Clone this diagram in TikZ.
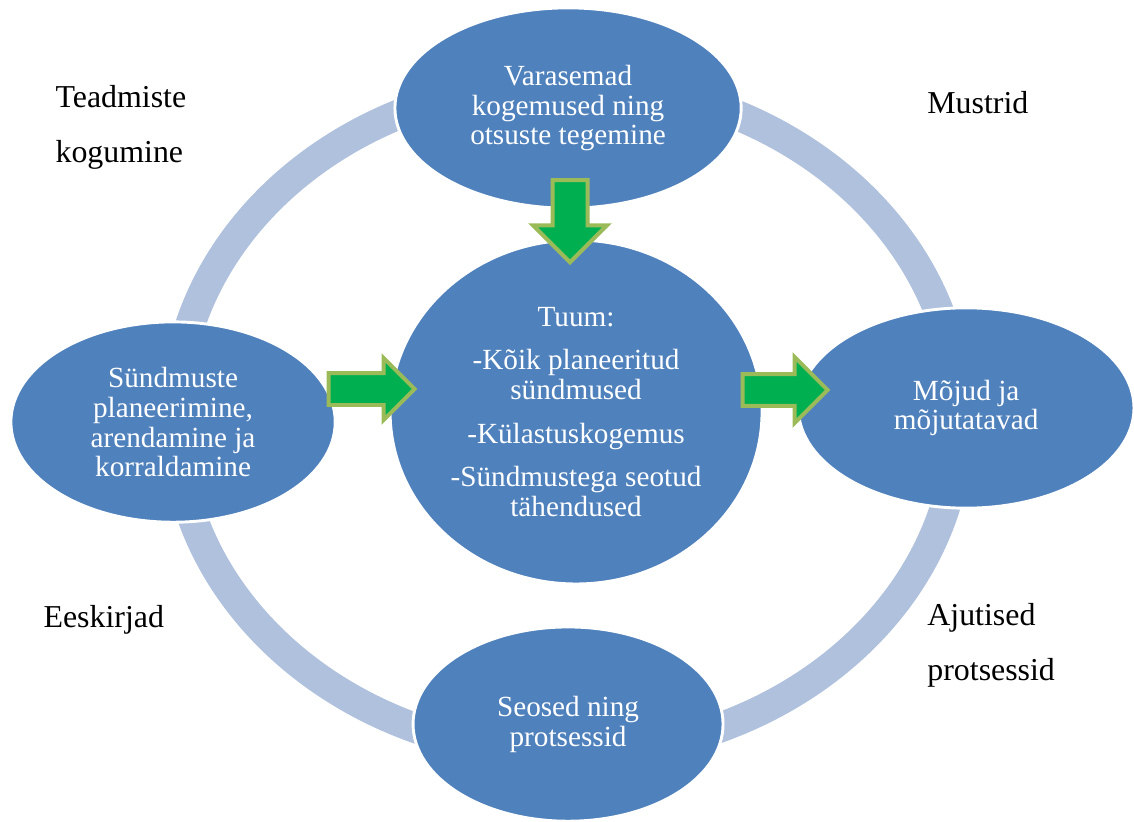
\documentclass[tikz,border=0pt]{standalone}
\usepackage{fontspec}
\setmainfont{Liberation Serif}
\usetikzlibrary{shapes.geometric, shapes.arrows}

\definecolor{bubblecol}{HTML}{4F81BD}
\definecolor{ringcol}{HTML}{B0C1DD}
\definecolor{arrfill}{HTML}{00B050}
\definecolor{arrline}{HTML}{9BBB59}

\tikzset{
  bubble/.style={ellipse, fill=bubblecol, draw=white, line width=1.1pt, text=white,
    align=center, inner sep=0pt, font=\fontsize{11}{11.25}\selectfont},
  sidetext/.style={anchor=west, align=left, inner sep=0pt, font=\fontsize{12}{20.6}\selectfont},
  blockarr/.style={single arrow, fill=arrfill, draw=arrline, line width=1.5pt,
    inner xsep=0pt, minimum height=#1}
}

\begin{document}
\begin{tikzpicture}
  \useasboundingbox (0,0) rectangle (15.0,10.861);

  % ring behind the bubbles
  \coordinate (ringc) at (7.50,5.331);
  \draw[ringcol, line width=0.397cm] (ringc) ellipse [x radius=5.186, y radius=4.445];

  \node[bubble, minimum width=4.58cm, minimum height=2.65cm] (past) at (7.514,9.432) {Varasemad\\kogemused ning\\otsuste tegemine};
  \node[bubble, minimum width=4.29cm, minimum height=2.65cm] (plan) at (2.289,5.278) {Sündmuste\\planeerimine,\\arendamine ja\\korraldamine};
  \node[bubble, minimum width=4.44cm, minimum height=2.65cm] (impact) at (12.78,5.464) {Mõjud ja\\mõjutatavad};
  \node[bubble, minimum width=4.10cm, minimum height=2.57cm] (links) at (7.514,1.283) {Seosed ning\\protsessid};
  \node[bubble, minimum width=4.92cm, minimum height=4.55cm] (core) at (7.62,5.411) {Tuum:\\[5pt]-Kõik planeeritud\\sündmused\\[5pt]-Külastuskogemus\\[5pt]-Sündmustega seotud\\tähendused};

  % green block arrows
  \node[blockarr=1.085cm, inner ysep=0.205cm, single arrow head extend=0.258cm, rotate=-90] (pastcore) at (7.54,8.05) {};
  \node[blockarr=1.138cm, inner ysep=0.185cm, single arrow head extend=0.198cm] (plancore) at (4.81,5.715) {};
  \node[blockarr=1.124cm, inner ysep=0.185cm, single arrow head extend=0.225cm] (coreimpact) at (10.28,5.702) {};

  \node[sidetext] (knowledge) at (0.728,9.174) {Teadmiste\\kogumine};
  \node[sidetext] (patterns) at (12.26,9.499) {Mustrid};
  \node[sidetext] (rules) at (0.569,2.659) {Eeskirjad};
  \node[sidetext] (temporary) at (12.26,2.322) {Ajutised\\protsessid};
\end{tikzpicture}
\end{document}
